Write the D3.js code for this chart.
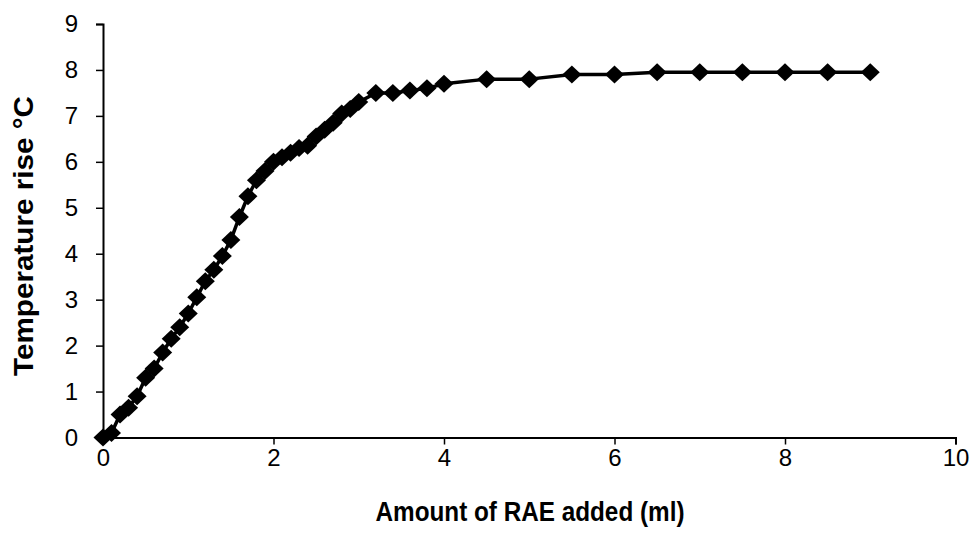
<!DOCTYPE html>
<html>
<head>
<meta charset="utf-8">
<script src="https://cdn.jsdelivr.net/npm/d3@7"></script>
<style>
  html, body { margin: 0; padding: 0; background: #fff; }
  svg { display: block; }
  text { font-family: Arial, "Liberation Sans", sans-serif; fill: #000; }
</style>
</head>
<body>
<svg id="chart" width="974" height="539"></svg>
<script>
// Volume of RAE added (ml)
const volume = [
  0, 0.1, 0.2, 0.3, 0.4, 0.5, 0.6, 0.7, 0.8, 0.9,
  1.0, 1.1, 1.2, 1.3, 1.4, 1.5, 1.6, 1.7, 1.8, 1.9,
  2.0, 2.1, 2.2, 2.3, 2.4, 2.5, 2.6, 2.7, 2.8, 2.9,
  3.0, 3.2, 3.4, 3.6, 3.8, 4.0,
  4.5, 5.0, 5.5, 6.0, 6.5, 7.0, 7.5, 8.0, 8.5, 9.0
];
// Temperature rise (°C)
const tempRise = [
  0, 0.1, 0.5, 0.65, 0.9, 1.3, 1.5, 1.85, 2.15, 2.4,
  2.7, 3.05, 3.4, 3.65, 3.95, 4.3, 4.8, 5.25, 5.6, 5.8,
  6.0, 6.1, 6.2, 6.3, 6.35, 6.55, 6.7, 6.85, 7.05, 7.15,
  7.3, 7.5, 7.5, 7.55, 7.6, 7.7,
  7.8, 7.8, 7.9, 7.9, 7.95, 7.95, 7.95, 7.95, 7.95, 7.95
];
const xTicks = [0, 2, 4, 6, 8, 10];
const yTicks = [0, 1, 2, 3, 4, 5, 6, 7, 8, 9];
const xTitle = "Amount of RAE added (ml)";
const yTitle = "Temperature rise °C";

const points = volume.map((v, i) => ({ x: v, y: tempRise[i] }));

const svg = d3.select("#chart");
const plotLeft = 103, plotRight = 955.5, plotTop = 24, plotBottom = 437.5;

const x = d3.scaleLinear().domain([0, 10]).range([plotLeft, plotRight]);
const y = d3.scaleLinear().domain([0, 9]).range([plotBottom, plotTop]);

// Axes
const xAxis = svg.append("g")
  .attr("transform", `translate(0,${plotBottom})`)
  .call(d3.axisBottom(x).tickValues(xTicks).tickSize(7).tickPadding(4).tickFormat(d3.format("d")));
const yAxis = svg.append("g")
  .attr("transform", `translate(${plotLeft},0)`)
  .call(d3.axisLeft(y).tickValues(yTicks).tickSize(7).tickPadding(18).tickFormat(d3.format("d")));

[xAxis, yAxis].forEach(g => {
  g.select(".domain").attr("stroke", "#000").attr("stroke-width", 2);
  g.selectAll(".tick line").attr("stroke", "#000").attr("stroke-width", 1.5);
  g.selectAll(".tick text")
    .style("font-family", "Arial, 'Liberation Sans', sans-serif")
    .style("font-size", "24px")
    .attr("fill", "#000");
});

// Connecting line
const line = d3.line().x(d => x(d.x)).y(d => y(d.y));
svg.append("path")
  .datum(points)
  .attr("fill", "none")
  .attr("stroke", "#000")
  .attr("stroke-width", 3.5)
  .attr("stroke-linejoin", "round")
  .attr("d", line);

// Diamond markers
const hw = 9.5, hh = 9;
svg.append("g")
  .selectAll("path")
  .data(points)
  .join("path")
  .attr("transform", d => `translate(${x(d.x)},${y(d.y)})`)
  .attr("d", `M0,${-hh}L${hw},0L0,${hh}L${-hw},0Z`)
  .attr("fill", "#000");

// Axis titles
svg.append("text")
  .attr("x", 530)
  .attr("y", 521)
  .attr("text-anchor", "middle")
  .attr("textLength", 309)
  .attr("lengthAdjust", "spacingAndGlyphs")
  .style("font-size", "27px")
  .style("font-weight", "bold")
  .text(xTitle);

svg.append("text")
  .attr("transform", `translate(33,236) rotate(-90)`)
  .attr("text-anchor", "middle")
  .attr("textLength", 280)
  .attr("lengthAdjust", "spacingAndGlyphs")
  .style("font-size", "27px")
  .style("font-weight", "bold")
  .text(yTitle);
</script>
</body>
</html>
